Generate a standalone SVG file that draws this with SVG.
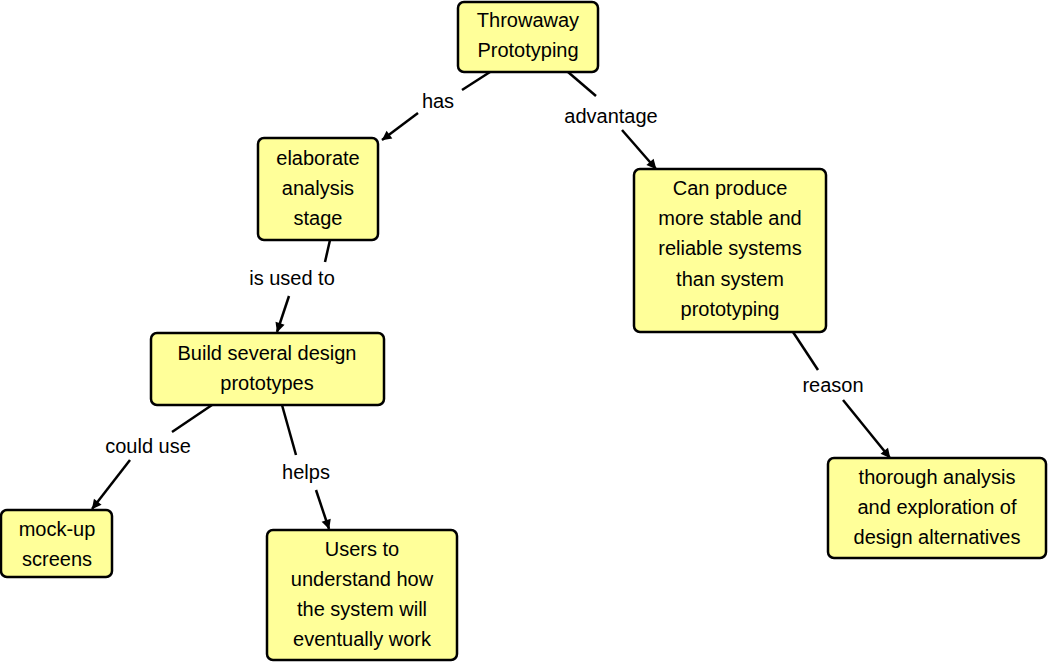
<svg xmlns="http://www.w3.org/2000/svg" width="1049" height="663" viewBox="0 0 1049 663">
<style>
.n{fill:#ffff99;stroke:#000;stroke-width:2.5}
text{font-family:"Liberation Sans",Arial,sans-serif;font-size:20px;fill:#000;text-anchor:middle;dominant-baseline:central}
.c{stroke:#000;stroke-width:2.5;fill:none}
</style>
<defs><marker id="a" viewBox="0 0 10 10" refX="9" refY="5" markerWidth="6" markerHeight="6" markerUnits="userSpaceOnUse" orient="auto" style="overflow:visible"><path d="M0,0 L10,5 L0,10 z" transform="scale(1.6) translate(-4,-2)" fill="#000"/></marker></defs>
<rect width="1049" height="663" fill="#fff"/>
<g id="connectors">
<path class="c" d="M490,72 L462,90"/><path class="c" d="M418,113 L382,140" marker-end="url(#a)"/><text x="438" y="101">has</text>
<path class="c" d="M568,72 L596,96"/><path class="c" d="M622,130 L656,169" marker-end="url(#a)"/><text x="611" y="116">advantage</text>
<path class="c" d="M330,240 L325,262"/><path class="c" d="M289,296 L277,332" marker-end="url(#a)"/><text x="292" y="278">is used to</text>
<path class="c" d="M212,405 L172,432"/><path class="c" d="M130,460 L92,509" marker-end="url(#a)"/><text x="148" y="446">could use</text>
<path class="c" d="M282,405 L296,455"/><path class="c" d="M316,490 L329,529" marker-end="url(#a)"/><text x="306" y="472">helps</text>
<path class="c" d="M793,332 L818,370"/><path class="c" d="M843,400 L890,458" marker-end="url(#a)"/><text x="833" y="385">reason</text>
</g>
<g id="n1"><rect class="n" x="458" y="2" width="140" height="70" rx="6"/><text x="528" y="20">Throwaway</text><text x="528" y="50">Prototyping</text></g>
<g id="n2"><rect class="n" x="258" y="138" width="120" height="102" rx="6"/><text x="318" y="158">elaborate</text><text x="318" y="188">analysis</text><text x="318" y="218">stage</text></g>
<g id="n3"><rect class="n" x="634" y="169" width="192" height="163" rx="6"/><text x="730" y="188">Can produce</text><text x="730" y="218">more stable and</text><text x="730" y="248">reliable systems</text><text x="730" y="279">than system</text><text x="730" y="309">prototyping</text></g>
<g id="n4"><rect class="n" x="151" y="333" width="233" height="72" rx="6"/><text x="267" y="353">Build several design</text><text x="267" y="383">prototypes</text></g>
<g id="n5"><rect class="n" x="1" y="510" width="111" height="67" rx="6"/><text x="57" y="529">mock-up</text><text x="57" y="559">screens</text></g>
<g id="n6"><rect class="n" x="267" y="530" width="190" height="130" rx="6"/><text x="362" y="549">Users to</text><text x="362" y="579">understand how</text><text x="362" y="609">the system will</text><text x="362" y="639">eventually work</text></g>
<g id="n7"><rect class="n" x="828" y="458" width="218" height="100" rx="6"/><text x="937" y="477">thorough analysis</text><text x="937" y="507">and exploration of</text><text x="937" y="537">design alternatives</text></g>
</svg>
